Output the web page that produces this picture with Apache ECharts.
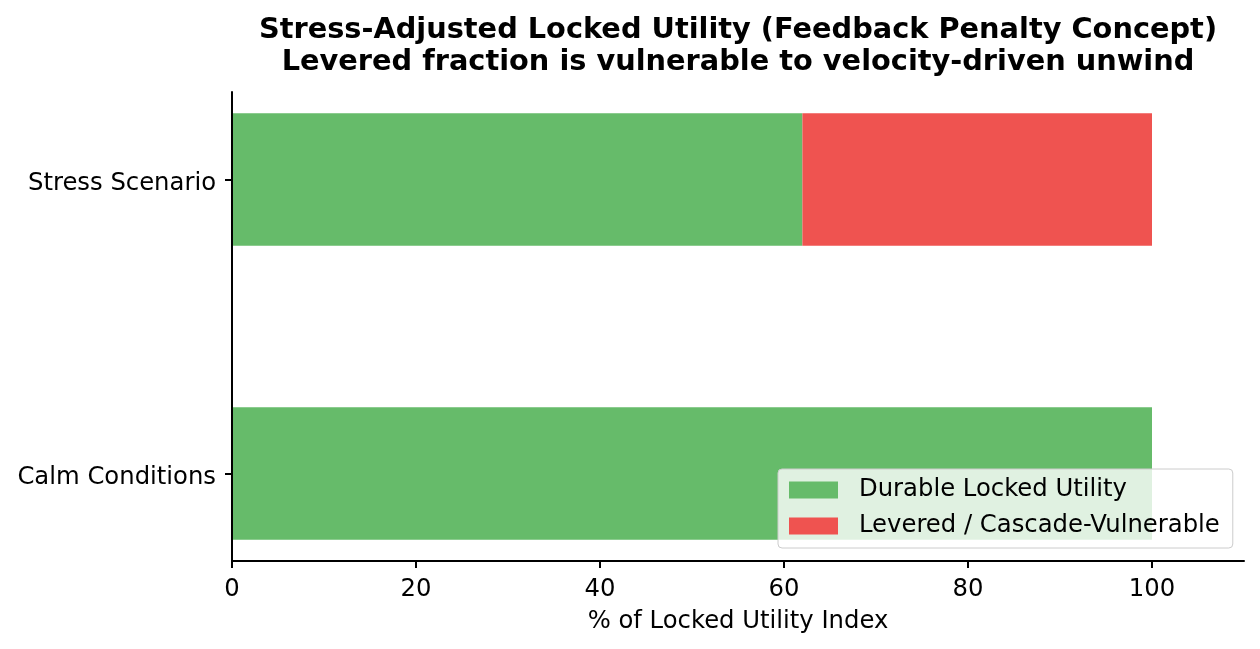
<!DOCTYPE html>
<html>
<head>
<meta charset="utf-8">
<script src="https://cdn.jsdelivr.net/npm/echarts@6/dist/echarts.min.js"></script>
<style>
html,body{margin:0;padding:0;background:#fff;}
#chart{width:1260px;height:649px;}
</style>
</head>
<body>
<div id="chart"></div>
<script>
// ---- data ----
var categories = ['Calm Conditions', 'Stress Scenario'];
var durable = [100, 62];
var levered = [0, 38];
var seriesNames = ['Durable Locked Utility', 'Levered / Cascade-Vulnerable'];
var xTicks = [0, 20, 40, 60, 80, 100];
var titleText = 'Stress-Adjusted Locked Utility (Feedback Penalty Concept)\nLevered fraction is vulnerable to velocity-driven unwind';
var xAxisName = '% of Locked Utility Index';

var BAR_H = 0.45;
var FONT = 'DejaVu Sans';
var FS = 24.3;

function stackData(base, vals) {
  return vals.map(function (v, i) {
    var s = base ? base[i] : 0;
    return [s, s + v, i];
  });
}

function renderBar(params, api) {
  var s = api.value(0), e = api.value(1), c = api.value(2);
  var p0 = api.coord([s, c]);
  var p1 = api.coord([e, c]);
  var h = api.size([0, BAR_H])[1];
  return {
    type: 'rect',
    shape: { x: p0[0], y: p0[1] - h / 2, width: p1[0] - p0[0], height: h },
    style: api.style()
  };
}

var chart = echarts.init(document.getElementById('chart'), null, { renderer: 'canvas' });
chart.setOption({
  animation: false,
  backgroundColor: '#ffffff',
  textStyle: { fontFamily: FONT },
  title: {
    text: titleText,
    left: 738,
    top: 15,
    textAlign: 'center',
    padding: 0,
    textStyle: { fontFamily: FONT, fontWeight: 'bold', fontSize: 28.8, lineHeight: 32, color: '#000' }
  },
  legend: {
    orient: 'vertical',
    left: 778,
    top: 469,
    padding: [9, 13, 10, 11],
    itemGap: 12,
    itemWidth: 49,
    itemHeight: 17,
    icon: 'rect',
    backgroundColor: 'rgba(255,255,255,0.8)',
    borderColor: '#cccccc',
    borderWidth: 1,
    borderRadius: 4,
    data: seriesNames,
    textStyle: { fontFamily: FONT, fontSize: FS, lineHeight: 24, color: '#000', padding: [0, 0, 0, 16] }
  },
  grid: { left: 232, top: 92, width: 1012, height: 469, containLabel: false },
  xAxis: {
    type: 'value',
    z: 3,
    min: 0,
    max: 110,
    name: xAxisName,
    nameLocation: 'middle',
    nameGap: 49,
    nameTextStyle: { fontFamily: FONT, fontSize: FS, color: '#000' },
    axisLine: { show: true, onZero: false, lineStyle: { color: '#000', width: 2 } },
    axisTick: { show: true, length: 7, customValues: xTicks, lineStyle: { color: '#000', width: 2 } },
    axisLabel: { customValues: xTicks, margin: 17, fontFamily: FONT, fontSize: FS, color: '#000' },
    splitLine: { show: false }
  },
  yAxis: {
    type: 'value',
    z: 3,
    min: -0.2975,
    max: 1.2975,
    axisLine: { show: true, onZero: false, lineStyle: { color: '#000', width: 2 } },
    axisTick: { show: true, length: 7, customValues: [0, 1], lineStyle: { color: '#000', width: 2 } },
    axisLabel: {
      customValues: [0, 1],
      margin: 16,
      verticalAlign: 'top',
      lineHeight: 8,
      fontFamily: FONT, fontSize: FS, color: '#000',
      formatter: function (v) { return categories[Math.round(v)]; }
    },
    splitLine: { show: false }
  },
  series: [
    {
      name: seriesNames[0],
      type: 'custom',
      renderItem: renderBar,
      itemStyle: { color: '#66bb6a' },
      encode: { x: [0, 1], y: 2 },
      data: stackData(null, durable)
    },
    {
      name: seriesNames[1],
      type: 'custom',
      renderItem: renderBar,
      itemStyle: { color: '#ef5350' },
      encode: { x: [0, 1], y: 2 },
      data: stackData(durable, levered)
    }
  ]
});
</script>
</body>
</html>
